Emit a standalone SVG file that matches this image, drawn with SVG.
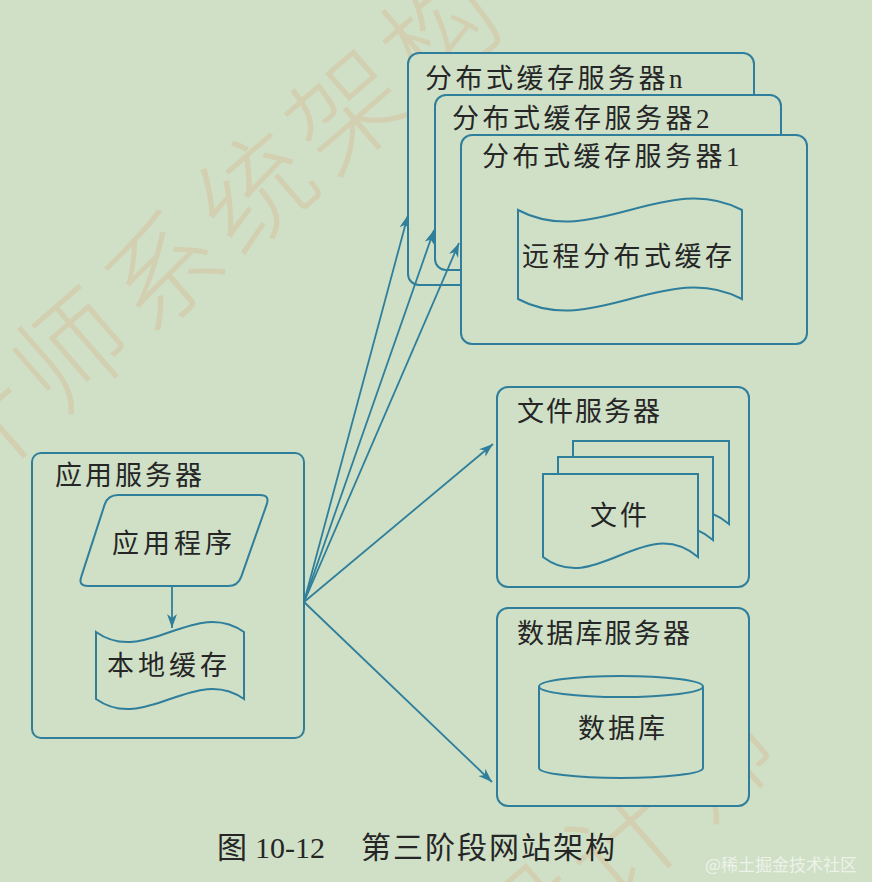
<svg xmlns="http://www.w3.org/2000/svg" width="872" height="882" viewBox="0 0 872 882">
<defs>
<style>
.bg{fill:#cfe0c6}
.box{fill:#cfe0c6;stroke:#2f7f9c;stroke-width:2}
.shape{fill:#cfe0c6;stroke:#2f7f9c;stroke-width:2}
.lbl{font-family:"Liberation Serif","Noto Sans CJK SC",serif;font-size:27px;fill:#262626;letter-spacing:3px}
.conn{stroke:#2f7f9c;stroke-width:1.8;fill:none;marker-end:url(#arr)}
.wm{font-family:"Noto Sans CJK SC",sans-serif;font-size:112px;fill:#dcae88;fill-opacity:0.32;font-weight:300;letter-spacing:10px}
.cap{font-family:"Liberation Serif","Noto Sans CJK SC",serif;font-size:30px;fill:#262626}
</style>
<marker id="arr" markerUnits="userSpaceOnUse" markerWidth="16" markerHeight="12" refX="14" refY="5" orient="auto">
<path d="M0,0 L14,5 L0,10 L4,5 Z" fill="#2f7f9c"/>
</marker>
</defs>
<rect class="bg" x="0" y="0" width="872" height="882"/>
<g id="watermark">
<text class="wm" transform="translate(-36,499) rotate(-41)">计师系统架构</text>
<text class="wm" transform="translate(517,989) rotate(-41)">设计师</text>
</g>
<g id="app-server">
<rect class="box" x="32" y="453" width="272" height="285" rx="9"/>
<text class="lbl" x="55" y="485">应用服务器</text>
</g>
<g id="app-program">
<path class="shape" d="M118,495 H260 Q270,495 266.7,504.4 L241.3,576.6 Q238,586 228,586 H88 Q78,586 81.3,576.6 L104.7,504.4 Q108,495 118,495 Z"/>
<text class="lbl" x="112" y="553" style="letter-spacing:4px">应用程序</text>
</g>
<g id="local-cache">
<path class="shape" d="M96,632 C145,667 195,597 244,632 V699 C195,664 145,734 96,699 Z"/>
<text class="lbl" x="107" y="675" style="letter-spacing:4px">本地缓存</text>
</g>
<g id="cache-server-n">
<rect class="box" x="408" y="53" width="346" height="232" rx="11"/>
<text class="lbl" x="425" y="88" style="letter-spacing:3.5px">分布式缓存服务器n</text>
</g>
<g id="cache-server-2">
<rect class="box" x="435" y="95" width="346" height="175" rx="11"/>
<text class="lbl" x="452" y="128" style="letter-spacing:3.5px">分布式缓存服务器2</text>
</g>
<g id="cache-server-1">
<rect class="box" x="461" y="135" width="346" height="209" rx="11"/>
<text class="lbl" x="482" y="166" style="letter-spacing:3.5px">分布式缓存服务器1</text>
</g>
<g id="remote-cache">
<path class="shape" d="M518,210 C593,250 667,170 742,210 V299 C667,259 593,339 518,299 Z"/>
<text class="lbl" x="522" y="266" style="letter-spacing:3.5px">远程分布式缓存</text>
</g>
<g id="file-server">
<rect class="box" x="497" y="387" width="252" height="200" rx="11"/>
<text class="lbl" x="517" y="421" style="letter-spacing:2px">文件服务器</text>
</g>
<g id="files">
<path class="shape" d="M573,441 H729 V524 C677,479 625,564 573,524 Z"/>
<path class="shape" d="M558,457 H713 V540 C661,495 610,580 558,540 Z"/>
<path class="shape" d="M543,474 H698 V557 C646,512 595,597 543,557 Z"/>
<text class="lbl" x="590" y="525">文件</text>
</g>
<g id="db-server">
<rect class="box" x="497" y="608" width="252" height="198" rx="11"/>
<text class="lbl" x="517" y="643" style="letter-spacing:2.2px">数据库服务器</text>
</g>
<g id="database">
<path class="shape" d="M539,686.5 V768 A82,10 0 0 0 703,768 V686.5"/>
<ellipse class="shape" cx="621" cy="686.5" rx="82" ry="10.5"/>
<text class="lbl" x="578" y="738">数据库</text>
</g>
<g id="connectors">
<line class="conn" x1="172" y1="586" x2="172" y2="628"/>
<line class="conn" x1="304" y1="602" x2="408" y2="215"/>
<line class="conn" x1="304" y1="602" x2="434" y2="230"/>
<line class="conn" x1="304" y1="602" x2="459" y2="243"/>
<line class="conn" x1="304" y1="602" x2="493" y2="444"/>
<line class="conn" x1="304" y1="602" x2="492" y2="782"/>
</g>
<g id="caption">
<text class="cap" y="858"><tspan x="217">图</tspan><tspan x="255">10-12</tspan><tspan x="361" style="letter-spacing:2px">第三阶段网站架构</tspan></text>
<text x="705" y="871" style="font-family:'Noto Sans CJK SC',sans-serif;font-size:17px;fill:#f2f5ef;fill-opacity:0.9">@稀土掘金技术社区</text>
</g>
</svg>
